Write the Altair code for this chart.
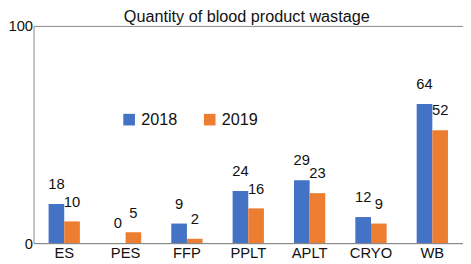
import altair as alt
import pandas as pd

categories = ["ES", "PES", "FFP", "PPLT", "APLT", "CRYO", "WB"]
years = ["2018", "2019"]
values_2018 = [18, 0, 9, 24, 29, 12, 64]
values_2019 = [10, 5, 2, 16, 23, 9, 52]
title_text = "Quantity of blood product wastage"

rows = []
for c, a, b in zip(categories, values_2018, values_2019):
    rows.append({"cat": c, "year": "2018", "value": a})
    rows.append({"cat": c, "year": "2019", "value": b})
df = pd.DataFrame(rows)

FONT = "Liberation Sans"
x = alt.X("cat:N", sort=categories, title=None,
          scale=alt.Scale(paddingInner=0.49, paddingOuter=0.245),
          axis=alt.Axis(labelAngle=0, labelFontSize=15, labelColor="#111", labelFont=FONT,
                        domainColor="#888", ticks=False, labelPadding=3))
y = alt.Y("value:Q", title=None,
          scale=alt.Scale(domain=[0, 100], nice=False),
          axis=alt.Axis(values=[0, 100], labelFontSize=15, labelColor="#111", labelFont=FONT,
                        domainColor="#888", ticks=False, grid=True, gridColor="#888",
                        labelPadding=1))
color = alt.Color("year:N", scale=alt.Scale(domain=years, range=["#4472C4", "#ED7D31"]),
                  legend=alt.Legend(title=None, orient="none", legendX=89, legendY=87,
                                    direction="horizontal", symbolType="square", symbolSize=140,
                                    symbolStrokeWidth=0, labelFontSize=16.5, labelFont=FONT,
                                    labelColor="#111", columnPadding=24, labelOffset=4))

bars = alt.Chart(df).mark_bar().encode(
    x=x, y=y, color=color, xOffset=alt.XOffset("year:N", sort=years)
)
labels = alt.Chart(df).mark_text(dy=-20, fontSize=15, font=FONT, color="#111").encode(
    x=x, y=y, xOffset=alt.XOffset("year:N", sort=years), text="value:Q"
)
title = alt.Chart(pd.DataFrame({"t": [title_text]})).mark_text(
    fontSize=16.5, font=FONT, color="#111", baseline="alphabetic", align="center"
).encode(x=alt.value(217), y=alt.value(-4), text="t:N")

chart = (bars + labels + title).properties(
    width=437, height=221,
    padding={"left": 26, "top": 16, "right": 0, "bottom": 18},
    autosize=alt.AutoSizeParams(type="none"),
).configure_view(stroke=None)

chart.save("out.html", embed_options={"renderer": "svg", "actions": False})
